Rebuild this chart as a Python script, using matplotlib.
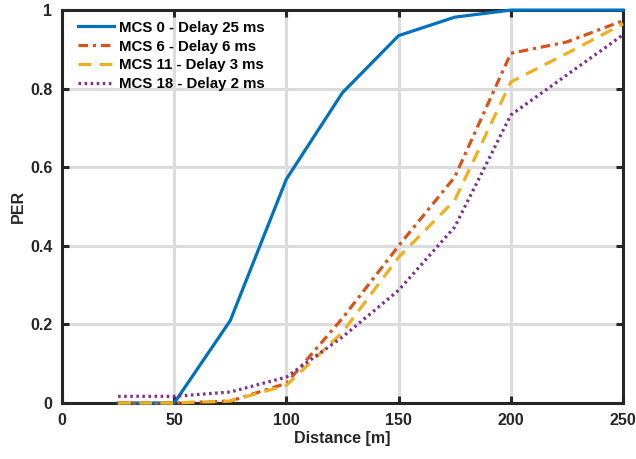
import matplotlib.pyplot as plt
import numpy as np

# PER versus distance for several MCS / delay settings
distance = [25, 50, 75, 100, 125, 150, 175, 200, 225, 250]
per_mcs0 = [0, 0, 0.21, 0.57, 0.79, 0.935, 0.982, 1.0, 1.0, 1.0]
per_mcs6 = [0, 0, 0.005, 0.05, 0.216, 0.40, 0.575, 0.89, 0.919, 0.973]
per_mcs11 = [0, 0, 0.005, 0.045, 0.18, 0.371, 0.516, 0.817, 0.89, 0.965]
per_mcs18 = [0.017, 0.017, 0.028, 0.066, 0.168, 0.287, 0.448, 0.733, 0.835, 0.937]
labels = ['MCS 0 - Delay 25 ms', 'MCS 6 - Delay 6 ms',
          'MCS 11 - Delay 3 ms', 'MCS 18 - Delay 2 ms']

plt.rcParams['font.family'] = ['Liberation Sans', 'DejaVu Sans']
plt.rcParams['font.weight'] = 'bold'

fig = plt.figure(figsize=(6.36, 4.59), dpi=100)
ax = fig.add_axes([0.0975, 0.122, 0.8821, 0.856])

lw = 2.3
kw = dict(lw=lw, clip_on=False, zorder=4)
ax.plot(distance, per_mcs0, color='#0072BD', label=labels[0], **kw)
ax.plot(distance, per_mcs6, color='#D95319', label=labels[1],
        dashes=(3.0, 1.5, 1.0, 1.5), **kw)
ax.plot(distance, per_mcs11, color='#EDB120', label=labels[2],
        dashes=(4.0, 2.6), **kw)
ax.plot(distance, per_mcs18, color='#7E2F8E', label=labels[3],
        dashes=(0.8, 1.1), **kw)

ax.set_xlim(0, 250)
ax.set_ylim(0, 1)
ax.set_xticks(np.arange(0, 251, 50))
ax.set_yticks(np.arange(0, 1.01, 0.2))
ax.set_yticklabels(['0', '0.2', '0.4', '0.6', '0.8', '1'])

ax.grid(True, color='#dcdcdc', lw=2.2)
ax.set_axisbelow(True)
for s in ax.spines.values():
    s.set_linewidth(2.2)
    s.set_color('#262626')
ax.tick_params(direction='in', length=5, width=2.2, color='#262626',
               top=True, right=True, labelsize=11.5, labelcolor='#262626', pad=7)
for t in ax.get_xticklabels() + ax.get_yticklabels():
    t.set_fontweight('bold')

ax.set_xlabel('Distance [m]', fontsize=11.5, fontweight='bold', color='#262626', labelpad=2)
ax.set_ylabel('PER', fontsize=11.5, fontweight='bold', color='#262626', labelpad=3)

leg = ax.legend(loc='upper left', frameon=False, fontsize=10.8, handlelength=2.4,
                handletextpad=0.35, labelspacing=0.33, borderaxespad=0.3,
                bbox_to_anchor=(0.01, 1.0))
for t in leg.get_texts():
    t.set_fontweight('bold')

fig.savefig('out.png', dpi=100)
